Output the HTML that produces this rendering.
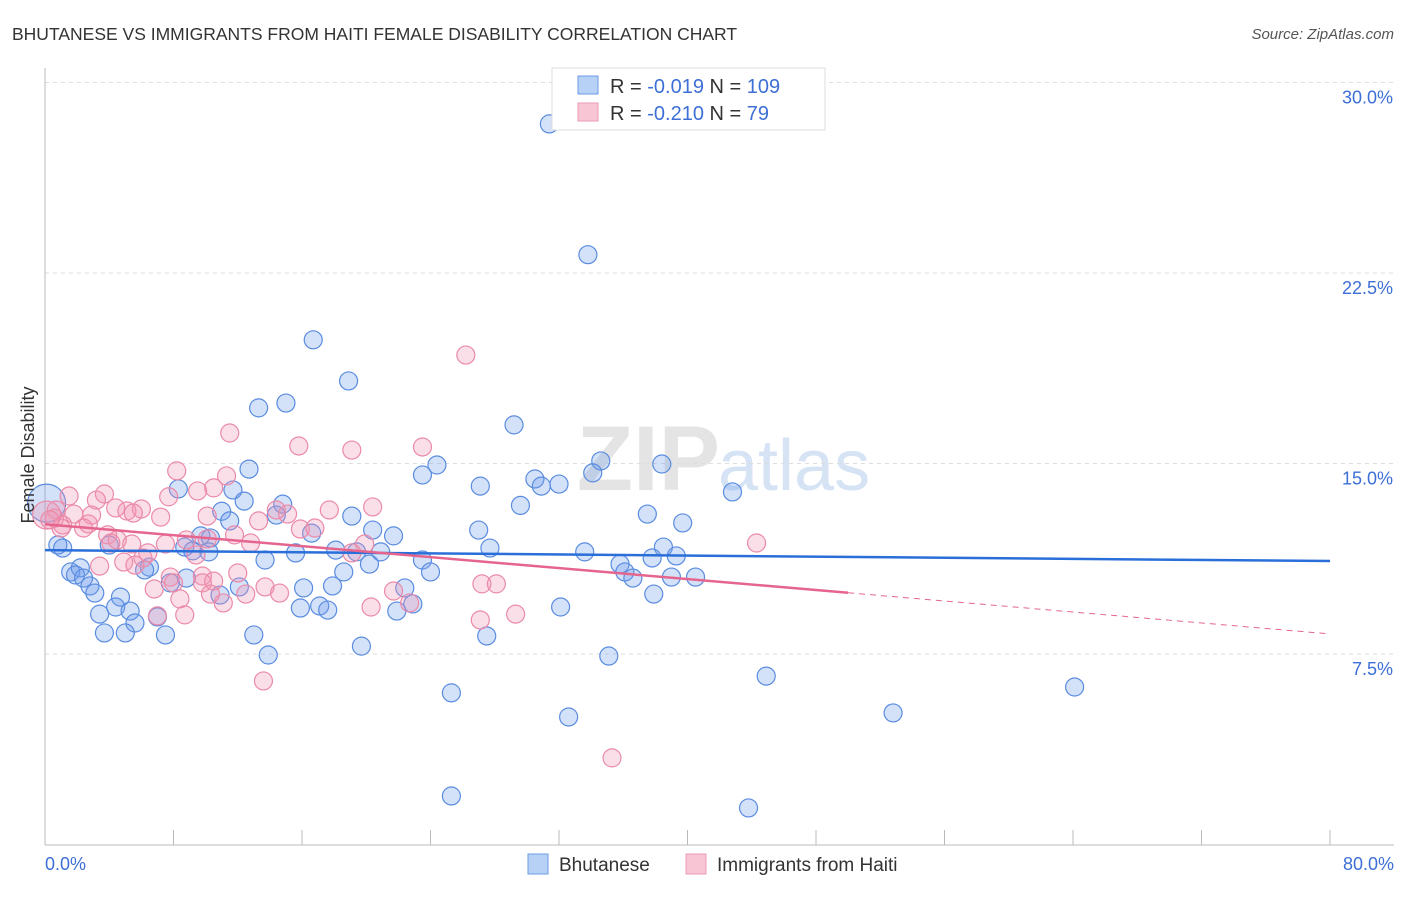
<!DOCTYPE html>
<html><head><meta charset="utf-8"><style>
body{margin:0;background:#fff;font-family:"Liberation Sans",sans-serif}
svg text{font-family:"Liberation Sans",sans-serif}
</style></head><body>
<svg width="1406" height="892" xmlns="http://www.w3.org/2000/svg" id="chart">
<text x="12" y="40" font-size="17.5" fill="#333">BHUTANESE VS IMMIGRANTS FROM HAITI FEMALE DISABILITY CORRELATION CHART</text>
<text x="1394" y="39" font-size="15" fill="#555" text-anchor="end" font-style="italic">Source: ZipAtlas.com</text>
<text x="720" y="490" font-size="92" fill="#e4e4e4" text-anchor="end" font-family="Liberation Serif" font-weight="bold">ZIP</text>
<text x="718" y="490" font-size="72" fill="#d6e3f5">atlas</text>
<g id="grid"></g>
<g id="axes"></g>
<g id="pts"></g>
<g id="lines"></g>
<text transform="translate(34,455) rotate(-90)" font-size="18" fill="#333" text-anchor="middle">Female Disability</text>
<text x="45" y="870" font-size="18" fill="#3d6fd6">0.0%</text>
<text x="1394" y="870" font-size="18" fill="#3d6fd6" text-anchor="end">80.0%</text>
<g>
<rect x="552" y="68" width="273" height="62" fill="#fff" stroke="#ddd"/>
<rect x="578" y="76" width="20" height="18" fill="#b7d0f5" stroke="#6d9be6"/>
<rect x="578" y="103" width="20" height="18" fill="#f8c5d5" stroke="#ec9ab5"/>
<text x="610" y="93" font-size="20" fill="#333">R = <tspan fill="#3d6fd6">-0.019</tspan>   N = <tspan fill="#3d6fd6">109</tspan></text>
<text x="610" y="120" font-size="20" fill="#333">R = <tspan fill="#3d6fd6">-0.210</tspan>   N = <tspan fill="#3d6fd6"> 79</tspan></text>
</g>
<g>
<rect x="528" y="854" width="20" height="20" fill="#b7d0f5" stroke="#6d9be6"/>
<text x="559" y="871" font-size="19" fill="#333">Bhutanese</text>
<rect x="686" y="854" width="20" height="20" fill="#f8c5d5" stroke="#ec9ab5"/>
<text x="717" y="871" font-size="19" fill="#333">Immigrants from Haiti</text>
</g>
</svg>
<script>
const yTicks=[7.5,15,22.5,30];
const yTickLabels=["7.5%","15.0%","22.5%","30.0%"];
const xTicks=[0,8,16,24,32,40,48,56,64,72,80];
const blueX=[31.4,33.8,16.7,18.9,15.0,13.3,29.2,24.4,34.6,38.4,12.7,23.5,34.1,30.5,32.0,27.1,30.9,42.8,8.3,11.7,12.4,29.6,14.8,14.4,11.0,19.1,37.5,39.7,11.5,27.0,20.4,16.6,21.7,9.7,10.3,27.7,18.1,19.4,20.9,33.6,38.5,39.3,15.6,8.7,9.2,10.2,4.0,0.8,1.1,13.7,23.5,37.8,35.8,20.2,6.5,6.2,18.6,24.0,36.1,36.6,39.0,40.5,1.6,2.2,1.9,2.4,2.8,3.1,7.8,8.8,12.1,17.9,16.1,22.4,37.9,10.9,4.7,4.4,5.3,17.1,15.9,17.6,22.9,21.9,32.1,3.4,7.0,5.6,3.7,5.0,7.5,13.0,19.7,27.5,13.9,35.1,44.9,64.1,25.3,52.8,32.6,25.3,43.8,0.1];
const blueY=[28.37,23.22,19.87,18.25,17.38,17.19,16.52,14.94,15.10,14.98,14.78,14.55,14.63,14.39,14.19,14.11,14.11,13.88,14.00,13.96,13.52,13.35,13.40,12.97,13.12,12.93,13.01,12.66,12.74,12.38,12.38,12.26,12.15,12.15,12.07,11.67,11.59,11.52,11.52,11.52,11.71,11.36,11.48,11.71,11.56,11.52,11.79,11.79,11.67,11.20,11.20,11.28,11.04,11.04,10.92,10.81,10.73,10.73,10.73,10.49,10.53,10.53,10.73,10.89,10.61,10.49,10.18,9.90,10.30,10.49,10.14,10.18,10.10,10.10,9.86,9.82,9.74,9.35,9.19,9.39,9.31,9.23,9.47,9.19,9.35,9.07,8.96,8.72,8.33,8.33,8.25,8.25,7.81,8.21,7.46,7.42,6.63,6.20,5.97,5.18,5.02,1.91,1.44,13.44];
const pinkX=[26.2,11.5,15.8,19.1,23.5,8.2,11.3,10.5,9.5,7.7,1.5,3.7,3.2,17.7,20.4,7.2,4.4,6.0,5.1,5.5,0.7,0.6,1.8,2.9,2.7,1.1,1.0,2.4,3.9,4.5,5.4,7.5,10.1,15.1,15.9,16.8,13.3,14.4,11.8,12.8,8.8,10.1,4.1,9.4,6.4,6.1,4.9,5.6,3.4,19.9,19.1,44.3,7.8,9.8,10.5,12.0,8.0,9.8,6.8,8.4,13.7,14.6,12.5,11.1,10.3,21.7,20.3,27.2,28.1,22.7,8.7,7.0,27.1,29.3,13.6,35.3,0.1,0.3];
const pinkY=[19.27,16.20,15.69,15.53,15.65,14.71,14.51,14.04,13.92,13.69,13.72,13.80,13.56,13.17,13.29,12.89,13.25,13.21,13.13,13.05,13.17,12.85,13.01,12.97,12.62,12.58,12.46,12.46,12.19,11.99,11.83,11.83,12.93,13.01,12.42,12.46,12.74,13.17,12.19,11.87,11.99,12.03,11.87,11.40,11.48,11.28,11.12,11.00,10.96,11.83,11.48,11.87,10.53,10.57,10.37,10.69,10.30,10.30,10.06,9.67,10.14,9.90,9.86,9.51,9.86,9.98,9.35,10.26,10.26,9.51,9.04,9.00,8.84,9.07,6.44,3.41,12.97,12.78];
const blueTrend=[11.59,11.16];
const pinkTrend=[12.61,8.29];
const pinkSolidEnd=50;

const NS="http://www.w3.org/2000/svg";
const X0=45,X1=1330,Y0=844.5,PY=190.5/7.5;
const sx=v=>X0+v/80*(X1-X0), sy=v=>Y0-v*PY;
function mk(tag,attrs,parent){const e=document.createElementNS(NS,tag);for(const k in attrs)e.setAttribute(k,attrs[k]);document.getElementById(parent).appendChild(e);return e;}
yTicks.forEach((t,i)=>{
 const l=mk('line',{x1:X0,x2:1394,y1:sy(t),y2:sy(t),stroke:'#ddd','stroke-dasharray':'4,4'},'grid');
 
 
 const tx=mk('text',{x:1393,y:sy(t)+21,'font-size':18,fill:'#3d6fd6','text-anchor':'end'},'grid');
 tx.textContent=yTickLabels[i];
 
 
});
const la=mk('line',{x1:X0,x2:X0,y1:68,y2:845,stroke:'#bbb'},'axes');


const lb=mk('line',{x1:X0,x2:1394,y1:845,y2:845,stroke:'#bbb'},'axes');


xTicks.forEach(t=>{
 const l=mk('line',{x1:sx(t),x2:sx(t),y1:830,y2:845,stroke:'#bbb'},'axes');
 
 
});
function dots(xs,ys,fill,stroke,name){
 xs.forEach((x,i)=>{
  const big=(x<0.5&&(ys[i]===13.44||ys[i]===12.97));
  const c=mk('circle',{cx:sx(x),cy:sy(ys[i]),r:big?(name==='bhutanese-point'?19:14):9,fill:fill,stroke:stroke,'stroke-width':1.2},'pts');
  
  
 });
}
dots(blueX,blueY,'rgba(110,155,235,0.3)','#5a8ce0','bhutanese-point');
dots(pinkX,pinkY,'rgba(242,150,180,0.3)','#eb8aa8','haiti-point');
const bl=mk('line',{x1:sx(0),y1:sy(blueTrend[0]),x2:sx(80),y2:sy(blueTrend[1]),stroke:'#2a6fd9','stroke-width':2.5},'lines');


const pm=pinkTrend[0]+(pinkTrend[1]-pinkTrend[0])*pinkSolidEnd/80;
const pl=mk('line',{x1:sx(0),y1:sy(pinkTrend[0]),x2:sx(pinkSolidEnd),y2:sy(pm),stroke:'#e5658f','stroke-width':2.5},'lines');


const pd=mk('line',{x1:sx(pinkSolidEnd),y1:sy(pm),x2:sx(80),y2:sy(pinkTrend[1]),stroke:'#e5658f','stroke-width':1,'stroke-dasharray':'6,5'},'lines');


</script>
</body></html>
